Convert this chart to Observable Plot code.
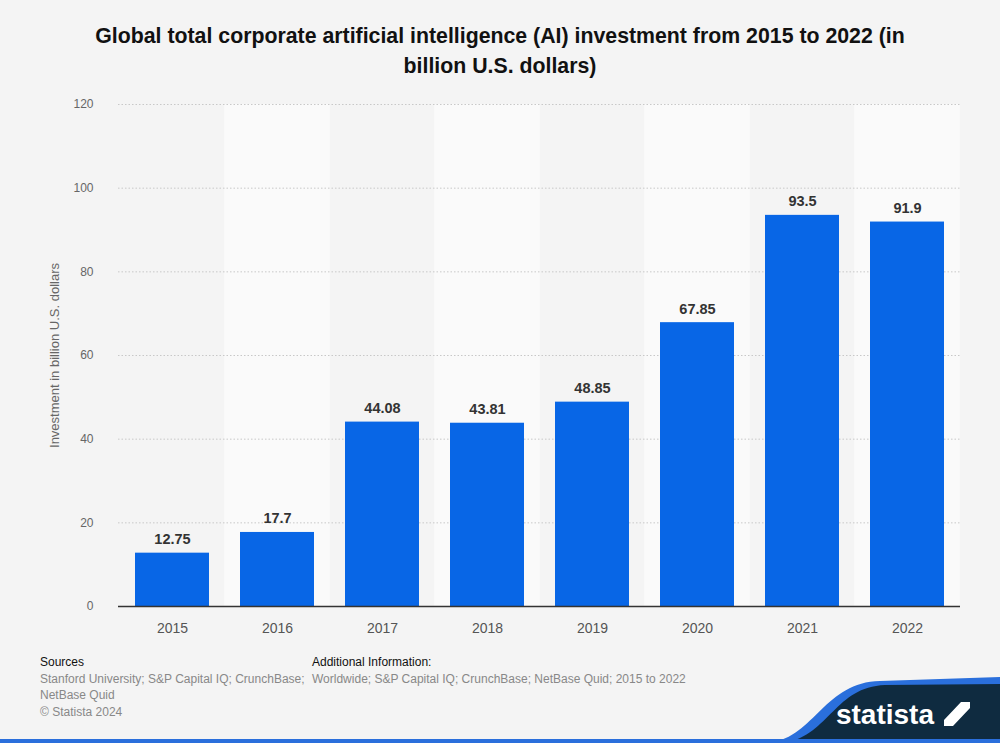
<!DOCTYPE html>
<html>
<head>
<meta charset="utf-8">
<script src="https://cdn.jsdelivr.net/npm/d3@7"></script>
<script src="https://cdn.jsdelivr.net/npm/@observablehq/plot@0.6"></script>
<style>
  html, body { margin: 0; padding: 0; background: #f4f4f4; }
  body { width: 1000px; height: 743px; position: relative; overflow: hidden; font-family: "Liberation Sans", Arial, sans-serif; }
  #title { position: absolute; left: 0; top: 21px; width: 1000px; text-align: center; font-weight: bold; font-size: 21.3px; line-height: 30px; color: #111; }
  #chart { position: absolute; left: 0; top: 90px; }
  #footer { position: absolute; left: 0; top: 654px; width: 1000px; height: 89px; font-size: 12px; line-height: 16.5px; }
  .lbl { color: #111; }
  .txt { color: #888; }
</style>
</head>
<body>
<div id="title">Global total corporate artificial intelligence (AI) investment from 2015 to 2022 (in<br>billion U.S. dollars)</div>
<div id="chart"></div>
<div id="footer">
  <div style="position:absolute;left:40px;top:0;"><div class="lbl">Sources</div><div class="txt">Stanford University; S&amp;P Capital IQ; CrunchBase;<br>NetBase Quid<br>© Statista 2024</div></div>
  <div style="position:absolute;left:312px;top:0;"><div class="lbl">Additional Information:</div><div class="txt">Worldwide; S&amp;P Capital IQ; CrunchBase; NetBase Quid; 2015 to 2022</div></div>
  <svg style="position:absolute;left:0;top:0;" width="1000" height="89">
    <path d="M770,89 C815,82 825,28 880,27 L1000,23 L1000,89 Z" fill="#2a6fdc"/>
    <path d="M785,89 C830,80 835,33 885,31 L1000,30 L1000,89 Z" fill="#0f2b40"/>
    <rect x="0" y="85" width="1000" height="4" fill="#2a6fdc"/>
    <text x="885" y="70" fill="#fff" font-family="Liberation Sans, Arial" font-weight="bold" font-size="28" text-anchor="middle">statista</text>
    <path d="M944,48 L970,48 L970,54 L953,72 L970,72 L944,72 L944,66 L961,48 Z" fill="#fff"/>
  </svg>
</div>
<script>
const years = ["2015", "2016", "2017", "2018", "2019", "2020", "2021", "2022"];
const values = [12.75, 17.7, 44.08, 43.81, 48.85, 67.85, 93.5, 91.9];
const valueLabels = ["12.75", "17.7", "44.08", "43.81", "48.85", "67.85", "93.5", "91.9"];
const yTicks = [0, 20, 40, 60, 80, 100, 120];
const bandYears = ["2016", "2018", "2020", "2022"];
const yLabel = "Investment in billion U.S. dollars";

const data = years.map((y, i) => ({year: y, value: values[i], label: valueLabels[i]}));

const W = 1000, ML = 118, MR = 40;
const step = (W - ML - MR) / years.length;
const pad = 0.3;
const ext = -step * pad / 2;

const chart = Plot.plot({
  width: W,
  height: 560,
  marginTop: 14,
  marginBottom: 44,
  marginLeft: ML,
  marginRight: MR,
  style: {background: "transparent", fontFamily: "Liberation Sans, Arial, sans-serif"},
  x: {domain: years, paddingInner: pad, paddingOuter: pad / 2},
  y: {domain: [0, 120]},
  marks: [
    Plot.barY(bandYears, {x: d => d, y1: 0, y2: 120, fill: "#fafafa", insetLeft: ext, insetRight: ext}),
    Plot.ruleY(yTicks.filter(d => d > 0), {stroke: "#c8c8c8", strokeDasharray: "1.5,2", strokeWidth: 1}),
    Plot.barY(data, {x: "year", y: "value", fill: "#0866e6"}),
    Plot.ruleY([0], {stroke: "#333", strokeWidth: 1.3}),
    Plot.text(data, {x: "year", y: "value", text: "label", dy: -9, lineAnchor: "bottom", fontWeight: "bold", fontSize: 14.5, fill: "#333"}),
    Plot.axisY({ticks: yTicks, tickSize: 0, tickPadding: 25, fontSize: 12, color: "#666", label: yLabel, labelAnchor: "center", labelArrow: "none", labelOffset: 69}),
    Plot.axisX({tickSize: 0, tickPadding: 17, fontSize: 14, color: "#555", label: null})
  ]
});
const lab = chart.querySelectorAll("g[aria-label='y-axis label'] text");
lab.forEach(t => t.setAttribute("font-size", "13"));
document.getElementById("chart").appendChild(chart);
</script>
</body>
</html>
